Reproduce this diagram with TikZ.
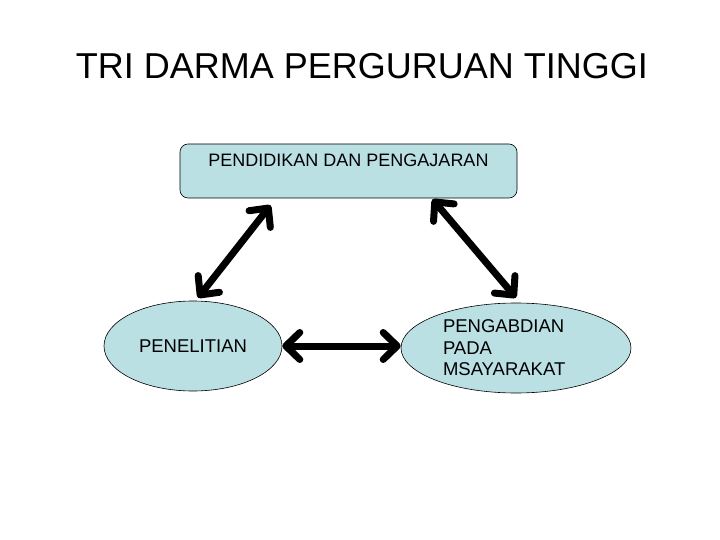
\documentclass[tikz,border=0pt]{standalone}
\usepackage{fontspec}
\setmainfont{Liberation Sans}
\usepackage{tikz}
\usetikzlibrary{positioning,shapes,arrows.meta,shapes.geometric}
\definecolor{boxblue}{HTML}{BBE0E3}

\begin{document}
\begin{tikzpicture}[x=1pt,y=-1pt,
        >={Straight Barb[length=14pt,width=27pt,round]},
        dua/.style={<->, line width=7pt, line cap=round, black}]
        \useasboundingbox (0,0) rectangle (720,540);
        \node[anchor=base, font=\fontsize{36}{40}\selectfont] (judul) at (362,79)
            {TRI DARMA PERGURUAN TINGGI};

        \node[draw, fill=boxblue, rounded corners=8pt, line width=0.6pt,
            minimum width=337pt, minimum height=54pt, align=center,
            font=\fontsize{18}{21}\selectfont](didik) at (348.5,171)
            {PENDIDIKAN DAN PENGAJARAN\\\mbox{}};
        \node[draw, fill=boxblue, ellipse, line width=0.6pt, inner sep=0pt,
            minimum width=178pt, minimum height=90pt,
            font=\fontsize{18.5}{21}\selectfont](teliti) at (193,346)
            {PENELITIAN};
        \node[draw, fill=boxblue, ellipse, line width=0.6pt, inner sep=0pt,
            minimum width=230pt, minimum height=90pt,
            text width=146pt, align=left,
            font=\fontsize{18.5}{21.5}\selectfont](abdi) at (516,348)
            {PENGABDIAN\\PADA\\MSAYARAKAT};

        \draw[dua] ([xshift=-78pt,yshift=-7pt]didik.south) -- ([xshift=5pt,yshift=3pt]teliti.north);
        \draw[dua] ([xshift=84pt,yshift=-1pt]didik.south) -- ([yshift=5pt]abdi.north);
        \draw[dua] (teliti.east) -- ([yshift=2pt]abdi.west);
    \end{tikzpicture}
\end{document}
